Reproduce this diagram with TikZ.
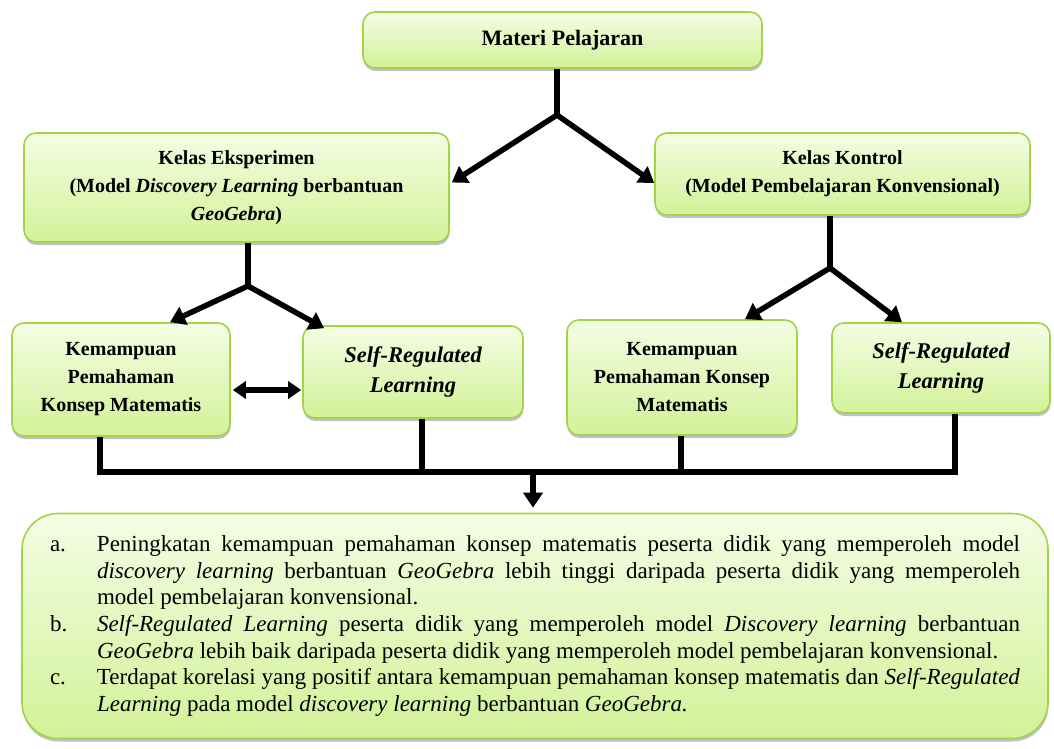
\documentclass[tikz,border=0pt]{standalone}
\usepackage{fontspec}
\setmainfont{Liberation Serif}
\usetikzlibrary{arrows.meta,shadows,calc}
\definecolor{boxtop}{HTML}{F4FDE4}
\definecolor{boxbot}{HTML}{D2F298}
\definecolor{boxline}{HTML}{A3D447}
\definecolor{shade}{HTML}{8E8AA8}
\tikzset{
  greenbox/.style={draw=boxline, line width=1.6pt, rounded corners=12pt,
    top color=boxtop, bottom color=boxbot, align=center, inner sep=0pt,
    drop shadow={shadow xshift=0.5pt, shadow yshift=-3pt, fill=shade, opacity=0.55},
    font=\fontsize{20}{28}\selectfont\bfseries},
  srlfont/.style={font=\fontsize{22.5}{30}\selectfont\bfseries\itshape},
  conn/.style={line width=5.5pt, black},
  arr/.style={conn, -{Triangle[length=15pt,width=19pt]}},
  dblarr/.style={conn, {Triangle[length=13pt,width=17pt]}-{Triangle[length=13pt,width=17pt]}}
}
\begin{document}
\begin{tikzpicture}[x=1pt,y=-1pt]
\useasboundingbox[fill=white] (0,0) rectangle (1054,749);

\node[greenbox, minimum width=399pt, minimum height=56pt, font=\fontsize{22}{28}\selectfont\bfseries] (materi) at (562.5,40) {Materi Pelajaran};

\node[greenbox, minimum width=425pt, minimum height=109pt] (eks) at (236.5,187.5)
  {Kelas Eksperimen\\(Model \textit{Discovery Learning} berbantuan\\\textit{GeoGebra})};
\node[greenbox, minimum width=375pt, minimum height=82pt] (kon) at (842.5,174)
  {Kelas Kontrol\\(Model Pembelajaran Konvensional)};

\node[greenbox, minimum width=218pt, minimum height=113pt] (kem1) at (121,379.5)
  {Kemampuan\\Pemahaman\\Konsep Matematis};
\node[greenbox, srlfont, minimum width=220pt, minimum height=92pt] (srl1) at (413,372)
  {Self-Regulated\\Learning};
\node[greenbox, minimum width=230pt, minimum height=115pt] (kem2) at (682,377.5)
  {Kemampuan\\Pemahaman Konsep\\Matematis};
\node[greenbox, srlfont, minimum width=218pt, minimum height=90pt] (srl2) at (941,368)
  {Self-Regulated\\Learning};

\node[greenbox, rounded corners=36pt, minimum width=1026pt, minimum height=225pt,
  text width=970pt, align=justify, font=\fontsize{23}{26.6}\selectfont] (concl) at (535,626)
  {\parindent0pt
   \hangindent47pt\hangafter1\makebox[47pt][l]{a.}Peningkatan kemampuan pemahaman konsep matematis peserta didik yang memperoleh model\linebreak
   \textit{discovery learning} berbantuan \textit{GeoGebra} lebih tinggi daripada peserta didik yang memperoleh\linebreak
   model pembelajaran konvensional.\par
   \hangindent47pt\hangafter1\makebox[47pt][l]{b.}\textit{Self-Regulated Learning} peserta didik yang memperoleh model \textit{Discovery learning} berbantuan\linebreak
   \textit{GeoGebra} lebih baik daripada peserta didik yang memperoleh model pembelajaran konvensional.\par
   \hangindent47pt\hangafter1\makebox[47pt][l]{c.}Terdapat korelasi yang positif antara kemampuan pemahaman konsep matematis dan \textit{Self-Regulated}\linebreak
   \textit{Learning} pada model \textit{discovery learning} berbantuan \textit{GeoGebra.}\par};

% top split
\coordinate (j1) at (557,115);
\draw[conn] (j1 |- materi.south) -- (j1);
\draw[arr] (j1) -- ($(eks.east)+(2,-5)$);
\draw[arr] (j1) -- ($(kon.west)+(0,9)$);

% experiment split
\coordinate (j2) at (248,286);
\draw[conn] (j2 |- eks.south) -- (j2);
\draw[arr] (j2) -- ($(kem1.north)+(49,0)$);
\draw[arr] (j2) -- ($(srl1.north west)+(22,3)$);

% control split
\coordinate (j3) at (830,268);
\draw[conn] (j3 |- kon.south) -- (j3);
\draw[arr] (j3) -- ($(kem2.north)+(63,0)$);
\draw[arr] (j3) -- ($(srl2.north)+(-39,0)$);

% correlation
\draw[dblarr] ($(kem1.east)+(2,10.5)$) -- ($(srl1.west)+(-1,18)$);

% bottom bus
\coordinate (b1) at (100,472);
\coordinate (b4) at (955,472);
\draw[conn, line join=miter] ($(kem1.south)+(-21,0)$) -- (b1) -- (b4) -- ($(srl2.south)+(14,0)$);
\draw[conn] ($(srl1.south)+(9,0)$) -- ++(0,54);
\draw[conn] ($(kem2.south)+(-1,0)$) -- ++(0,37);
\draw[arr] (533,472) -- ($(concl.north)+(-2,-5)$);
\end{tikzpicture}
\end{document}
